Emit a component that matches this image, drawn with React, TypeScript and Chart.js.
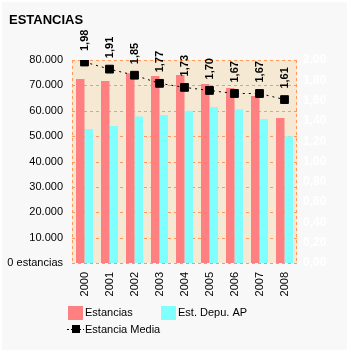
import React, { useEffect, useRef } from "react";
import { Chart, registerables } from "chart.js";

Chart.register(...registerables);

const years = ["2000", "2001", "2002", "2003", "2004", "2005", "2006", "2007", "2008"];
const estancias = [72500, 71700, 74800, 73700, 74100, 70500, 69000, 65800, 57100];
const estDepuAP = [52800, 54000, 57700, 58300, 60000, 61500, 60600, 56700, 50000];
const estanciaMedia = [1.98, 1.91, 1.85, 1.77, 1.73, 1.7, 1.67, 1.67, 1.61];

const title = "ESTANCIAS";
const legendLabels = ["Estancias", "Est. Depu. AP", "Estancia Media"];

const RED = "#ff8080";
const CYAN = "#80ffff";
const BEIGE = "#f6e9d3";
const ORANGE = "#ff9a5c";
const FONT = "'Liberation Sans', Arial, sans-serif";

const fmtThousands = (v: number) => {
  const s = Math.round(v).toString();
  return s.replace(/\B(?=(\d{3})+(?!\d))/g, ".");
};

const decorPlugin = {
  id: "decor",
  beforeDraw(chart: any) {
    const { ctx, chartArea: a, width, height } = chart;
    ctx.save();
    ctx.fillStyle = "#ffffff";
    ctx.fillRect(0, 0, width, height);
    ctx.fillStyle = "#f8f8f8";
    ctx.fillRect(2, 2, width - 4, height - 4);
    ctx.fillStyle = BEIGE;
    ctx.fillRect(a.left, a.top, a.right - a.left, a.bottom - a.top);
    // grid lines
    const y = chart.scales.y;
    ctx.strokeStyle = ORANGE;
    ctx.lineWidth = 1;
    ctx.setLineDash([3, 3]);
    y.ticks.forEach((t: any) => {
      const py = Math.round(y.getPixelForValue(t.value)) + 0.5;
      ctx.beginPath();
      ctx.moveTo(a.left, py);
      ctx.lineTo(a.right, py);
      ctx.stroke();
    });
    ctx.beginPath();
    ctx.moveTo(Math.round(a.left) + 0.5, a.top);
    ctx.lineTo(Math.round(a.left) + 0.5, a.bottom);
    ctx.moveTo(Math.round(a.right) - 0.5, a.top);
    ctx.lineTo(Math.round(a.right) - 0.5, a.bottom);
    ctx.stroke();
    ctx.setLineDash([]);
    // title
    ctx.fillStyle = "#000";
    ctx.font = `bold 13px ${FONT}`;
    ctx.textAlign = "left";
    ctx.textBaseline = "alphabetic";
    ctx.fillText(title, 9, 24);
    ctx.restore();
  },
  afterDatasetsDraw(chart: any) {
    const { ctx, chartArea: a } = chart;
    ctx.save();
    // bottom dashed border
    ctx.strokeStyle = ORANGE;
    ctx.setLineDash([3, 3]);
    ctx.beginPath();
    ctx.moveTo(a.left, Math.round(a.bottom) + 0.5);
    ctx.lineTo(a.right, Math.round(a.bottom) + 0.5);
    ctx.stroke();
    ctx.setLineDash([]);
    // data labels
    const meta = chart.getDatasetMeta(2);
    ctx.fillStyle = "#000";
    ctx.font = `bold 11px ${FONT}`;
    ctx.textAlign = "left";
    ctx.textBaseline = "middle";
    meta.data.forEach((pt: any, i: number) => {
      const txt = estanciaMedia[i].toFixed(2).replace(".", ",");
      ctx.save();
      ctx.translate(pt.x, pt.y - 11);
      ctx.rotate(-Math.PI / 2);
      ctx.fillText(txt, 0, 0);
      ctx.restore();
    });
    ctx.restore();
  },
  afterDraw(chart: any) {
    const { ctx } = chart;
    ctx.save();
    ctx.font = `11px ${FONT}`;
    ctx.textBaseline = "middle";
    ctx.textAlign = "left";
    ctx.fillStyle = RED;
    ctx.fillRect(68, 306, 15, 14);
    ctx.fillStyle = CYAN;
    ctx.fillRect(161, 306, 15, 14);
    ctx.fillStyle = "#000";
    ctx.fillText(legendLabels[0], 85, 313);
    ctx.fillText(legendLabels[1], 178, 313);
    // line legend
    ctx.strokeStyle = "#000";
    ctx.lineWidth = 1;
    ctx.setLineDash([2, 2]);
    ctx.beginPath();
    ctx.moveTo(67, 329.5);
    ctx.lineTo(84, 329.5);
    ctx.stroke();
    ctx.setLineDash([]);
    ctx.fillRect(72, 325, 8, 8);
    ctx.fillText(legendLabels[2], 85, 330);
    ctx.restore();
  },
};

export default function App() {
  const ref = useRef<HTMLCanvasElement>(null);
  useEffect(() => {
    if (!ref.current) return;
    const chart = new Chart(ref.current, {
      type: "bar",
      data: {
        labels: years,
        datasets: [
          {
            label: legendLabels[0],
            data: estancias,
            backgroundColor: RED,
            yAxisID: "y",
            order: 2,
            categoryPercentage: 0.68,
            barPercentage: 1,
          },
          {
            label: legendLabels[1],
            data: estDepuAP,
            backgroundColor: CYAN,
            yAxisID: "y",
            order: 2,
            categoryPercentage: 0.68,
            barPercentage: 1,
          },
          {
            type: "line",
            label: legendLabels[2],
            data: estanciaMedia,
            yAxisID: "y1",
            borderColor: "#000",
            borderWidth: 1,
            borderDash: [2, 4],
            backgroundColor: "#000",
            pointStyle: "rect",
            pointRadius: 5.5,
            pointBackgroundColor: "#000",
            pointBorderColor: "#000",
            tension: 0,
            order: 1,
          } as any,
        ],
      },
      options: {
        responsive: false,
        animation: false,
        layout: { padding: { top: 60, left: 0, right: 0, bottom: 0 } },
        plugins: { legend: { display: false }, tooltip: { enabled: false } },
        scales: {
          x: {
            grid: { display: false, drawTicks: false },
            border: { display: false },
            ticks: {
              minRotation: 90,
              maxRotation: 90,
              padding: 9,
              color: "#000",
              font: { family: FONT, size: 11 },
            },
            afterFit(scale: any) {
              scale.height = 89;
            },
          },
          y: {
            position: "left",
            min: 0,
            max: 80000,
            grid: { display: false, drawTicks: false },
            border: { display: false },
            ticks: {
              stepSize: 10000,
              padding: 9,
              color: "#000",
              font: { family: FONT, size: 11 },
              callback: (v: any) => (Number(v) === 0 ? "0 estancias" : fmtThousands(Number(v))),
            },
            afterFit(scale: any) {
              scale.width = 72;
            },
          },
          y1: {
            position: "right",
            min: 0,
            max: 2,
            grid: { display: false, drawTicks: false },
            border: { display: false },
            ticks: {
              stepSize: 0.2,
              padding: 6,
              color: "#ffffff",
              font: { family: FONT, size: 12, weight: "bold" },
              callback: (v: any) => Number(v).toFixed(2).replace(".", ","),
            },
            afterFit(scale: any) {
              scale.width = 52;
            },
          },
        },
      },
      plugins: [decorPlugin],
    });
    return () => chart.destroy();
  }, []);
  return (
    <div style={{ position: "fixed", left: 0, top: 0, width: 349, height: 352 }}>
      <canvas ref={ref} width={349} height={352} style={{ display: "block" }} />
    </div>
  );
}
